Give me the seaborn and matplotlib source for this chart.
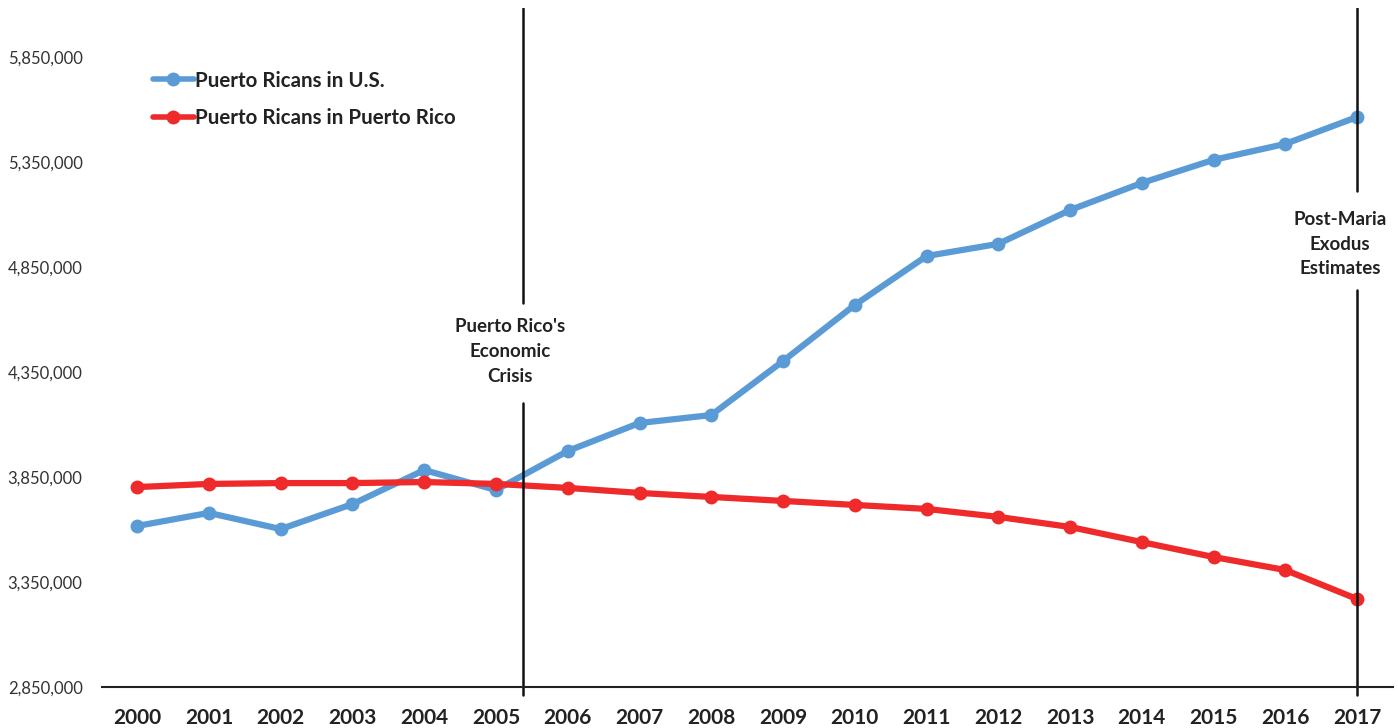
import matplotlib
matplotlib.use("Agg")
import matplotlib.pyplot as plt
import seaborn as sns
import pandas as pd

years = list(range(2000, 2018))
us_values = [3617000, 3679000, 3602000, 3721000, 3883000, 3788000, 3974000, 4107000,
             4145000, 4402000, 4669000, 4902000, 4960000, 5121000, 5250000, 5360000,
             5436000, 5564000]
pr_values = [3802000, 3817000, 3821000, 3821000, 3826000, 3817000, 3798000, 3774000,
             3755000, 3736000, 3717000, 3698000, 3660000, 3612000, 3540000, 3469000,
             3407000, 3269000]
series_names = ["Puerto Ricans in U.S.", "Puerto Ricans in Puerto Rico"]
y_ticks = [2850000, 3350000, 3850000, 4350000, 4850000, 5350000, 5850000]
crisis_x = 2005.37
maria_x = 2017
crisis_label = "Puerto Rico's\nEconomic\nCrisis"
maria_label = "Post-Maria\nExodus\nEstimates"

df = pd.DataFrame({
    "year": years * 2,
    "population": us_values + pr_values,
    "series": [series_names[0]] * len(years) + [series_names[1]] * len(years),
})

sns.set_style("white")
plt.rcParams["font.family"] = ["Lato", "DejaVu Sans"]

fig = plt.figure(figsize=(13.98, 7.28), dpi=100)
ax = fig.add_axes([0.073, 0.0563, 0.9234, 0.9327])

palette = {series_names[0]: "#5B9BD5", series_names[1]: "#EE2A2A"}
sns.lineplot(data=df, x="year", y="population", hue="series", palette=palette,
             marker="o", markersize=10, linewidth=4.5, markeredgewidth=0, ax=ax,
             sort=False)

ax.set_xlim(1999.51, 2017.5)
ax.set_ylim(2850000, 6083000)
ax.set_xticks(years)
ax.set_xticklabels([str(y) for y in years], fontsize=15, fontweight="bold", color="#222222")
ax.set_yticks(y_ticks)
ax.set_yticklabels([f"{v:,}" for v in y_ticks], fontsize=12, color="#333333")
ax.set_xlabel("")
ax.set_ylabel("")

for s in ["top", "right", "left"]:
    ax.spines[s].set_visible(False)
ax.spines["bottom"].set_color("#222222")
ax.spines["bottom"].set_linewidth(1.5)
ax.tick_params(axis="x", direction="in", length=6, width=1.2, color="#222222", pad=15)
ax.tick_params(axis="y", length=0, pad=14)

# vertical reference lines with gaps for labels
lc = "#111111"
ax.axvline(crisis_x, ymin=-0.012, ymax=0.418, color=lc, lw=1.8, clip_on=False)
ax.axvline(crisis_x, ymin=0.566, ymax=1.0, color=lc, lw=1.8)
ax.axvline(maria_x, ymin=-0.012, ymax=0.584, color=lc, lw=1.8, clip_on=False)
ax.axvline(maria_x, ymin=0.73, ymax=1.0, color=lc, lw=1.8)

ax.text(crisis_x - 0.17, 4447000, crisis_label, ha="center", va="center",
        fontsize=13.5, fontweight="bold", color="#222222", linespacing=1.55)
ax.text(maria_x - 0.24, 4958000, maria_label, ha="center", va="center",
        fontsize=13.5, fontweight="bold", color="#222222", linespacing=1.55)

leg = ax.legend(loc="upper left", bbox_to_anchor=(0.025, 0.935), frameon=False,
                handlelength=2.0, handletextpad=0.05, labelspacing=0.85,
                prop={"weight": "bold", "size": 14.8})
for t in leg.get_texts():
    t.set_color("#222222")
for h in leg.legend_handles:
    h.set_linewidth(4)

fig.savefig("out.png", dpi=100, facecolor="white")
